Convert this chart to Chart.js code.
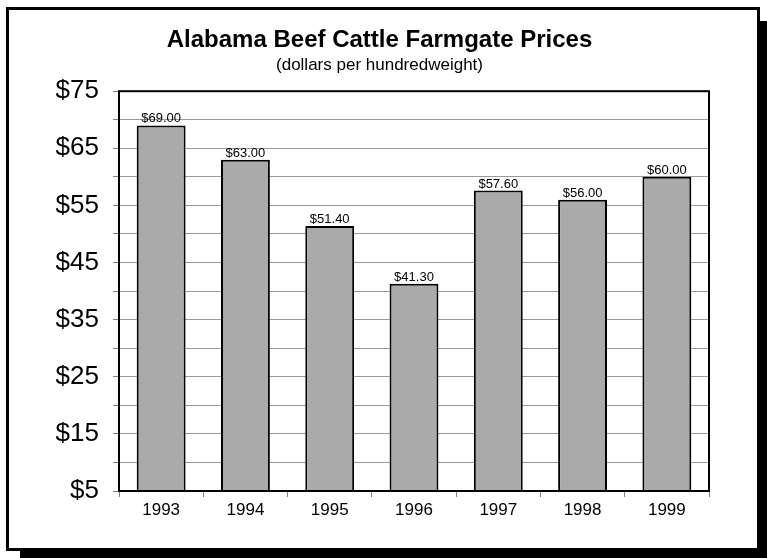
<!DOCTYPE html>
<html>
<head>
<meta charset="utf-8">
<title>Alabama Beef Cattle Farmgate Prices</title>
<script src="https://cdn.jsdelivr.net/npm/chart.js@4"></script>
<style>
    html, body { margin: 0; padding: 0; background: #fff; overflow: hidden; }
    #frame {
        position: absolute;
        left: 6px; top: 7px;
        width: 754px; height: 544px;
        box-sizing: border-box;
        border: 3px solid #000;
        background: #fff;
        box-shadow: 14px 14px 0 #000;
    }
    #wrap { position: absolute; left: 0; top: 0; width: 767px; height: 558px; }
</style>
</head>
<body>
<div id="frame"></div>
<div id="wrap"><canvas id="chart-prices"></canvas></div>
<script>
'use strict';

const years = ['1993', '1994', '1995', '1996', '1997', '1998', '1999'];
const prices = [69.00, 63.00, 51.40, 41.30, 57.60, 56.00, 60.00];
const priceAxis = [5, 75, 5];                 // min, max, step
const labelledTicks = [5, 15, 25, 35, 45, 55, 65, 75];

const FONT = "'Liberation Sans', Arial, sans-serif";

// black box round the plot area
const plotBorder = {
    id: 'plotBorder',
    afterDatasetsDraw(chart) {
        const { ctx, chartArea: a } = chart;
        ctx.save();
        ctx.strokeStyle = '#000';
        ctx.lineWidth = 2;
        ctx.strokeRect(a.left, a.top, a.right - a.left, a.bottom - a.top);
        ctx.restore();
    }
};

// dollar value printed above each bar
const barValues = {
    id: 'barValues',
    afterDatasetsDraw(chart) {
        const { ctx } = chart;
        const meta = chart.getDatasetMeta(0);
        ctx.save();
        ctx.font = '13px ' + FONT;
        ctx.fillStyle = '#000';
        ctx.textAlign = 'center';
        ctx.textBaseline = 'alphabetic';
        meta.data.forEach((bar, i) => {
            ctx.fillText('$' + prices[i].toFixed(2), bar.x, bar.y - 3);
        });
        ctx.restore();
    }
};

const ctx = document.getElementById('chart-prices').getContext('2d');
new Chart(ctx, {
    type: 'bar',
    data: {
        labels: years,
        datasets: [{
            data: prices,
            backgroundColor: '#aaaaaa',
            borderColor: '#000',
            borderWidth: 2,
            borderSkipped: false,
            barPercentage: 0.58,
            categoryPercentage: 1.0
        }]
    },
    options: {
        responsive: true,
        maintainAspectRatio: false,
        animation: false,
        layout: { padding: { left: 50, right: 58, top: 10, bottom: 37 } },
        plugins: {
            legend: { display: false },
            tooltip: { enabled: false },
            title: {
                display: true,
                text: 'Alabama Beef Cattle Farmgate Prices',
                color: '#000',
                font: { family: FONT, size: 24, weight: 'bold' },
                padding: { top: 16, bottom: 0 }
            },
            subtitle: {
                display: true,
                text: '(dollars per hundredweight)',
                color: '#000',
                font: { family: FONT, size: 17 },
                padding: { top: 0, bottom: 16 }
            }
        },
        scales: {
            x: {
                afterFit: (scale) => { scale.height = 30; },
                grid: {
                    offset: true,
                    drawOnChartArea: false,
                    drawTicks: true,
                    tickLength: 6,
                    tickColor: '#808080'
                },
                border: { display: false },
                ticks: {
                    color: '#000',
                    padding: 3,
                    autoSkip: false,
                    maxRotation: 0,
                    font: { family: FONT, size: 17 }
                }
            },
            y: {
                min: priceAxis[0],
                max: priceAxis[1],
                afterFit: (scale) => { scale.width = 69; },
                grid: {
                    color: '#999999',
                    lineWidth: 1,
                    tickLength: 6,
                    tickColor: '#808080'
                },
                border: { display: false },
                ticks: {
                    stepSize: priceAxis[2],
                    color: '#000',
                    padding: 14,
                    autoSkip: false,
                    font: { family: FONT, size: 26 },
                    callback: (val) => labelledTicks.includes(val) ? '$' + val : ''
                }
            }
        }
    },
    plugins: [plotBorder, barValues]
});
</script>
</body>
</html>
